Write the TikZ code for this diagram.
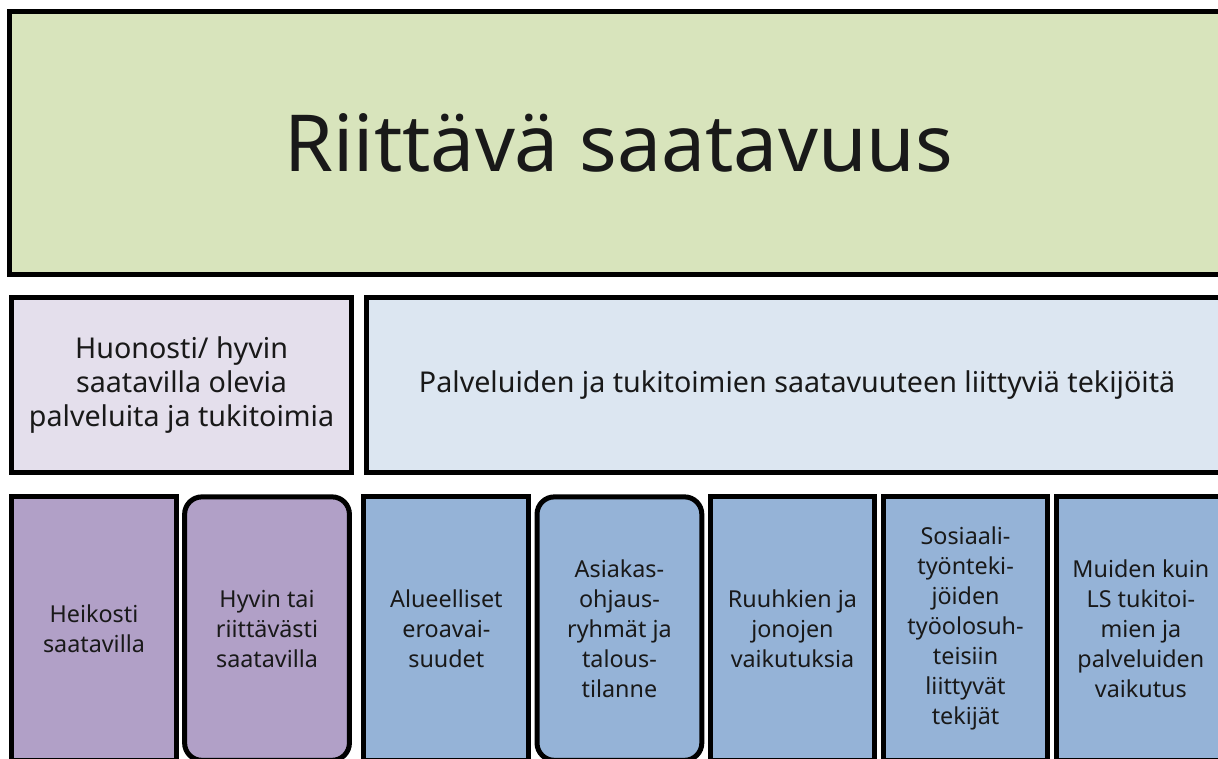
\documentclass[tikz,border=0pt]{standalone}
\usepackage{fontspec}
\setmainfont{Noto Sans}
\usepackage{xcolor}
\usetikzlibrary{positioning}

\definecolor{headgreen}{HTML}{D8E4BC}
\definecolor{lilac}{HTML}{E4DFEC}
\definecolor{paleblue}{HTML}{DCE6F1}
\definecolor{purple}{HTML}{B1A0C7}
\definecolor{midblue}{HTML}{95B3D7}

\begin{document}
\begin{tikzpicture}[
    x=0.75pt, y=-0.75pt,
    box/.style={draw=black, line width=3.75pt, outer sep=0pt, inner sep=3pt, align=center, text=black!90},
    head/.style={box, fill=headgreen, minimum width=914pt, minimum height=197pt, font=\fontsize{59}{70}\selectfont},
    avail/.style={box, fill=lilac, minimum width=255pt, minimum height=131pt, font=\fontsize{21.5}{25.5}\selectfont},
    factor/.style={box, fill=paleblue, minimum width=646.5pt, minimum height=131pt, font=\fontsize{21.5}{25.5}\selectfont},
    cell/.style={box, minimum width=123.6pt, minimum height=197.6pt, font=\fontsize{17.5}{22.5}\selectfont},
    pcell/.style={cell, fill=purple},
    bcell/.style={cell, fill=midblue},
    soft/.style={rounded corners=13pt},
]
\useasboundingbox (0,0) rectangle (1218,758);
\clip (0,0) rectangle (1218,758);

% Top: main heading
\node[head] (title) at (618.75,143) {Riittävä saatavuus};

% Row 2
\node[avail, below=16pt of title.south west, anchor=north west, xshift=1.6pt, yshift=-1.5pt] (avail) {Huonosti/ hyvin\\saatavilla olevia\\palveluita ja tukitoimia};
\node[factor, right=10.9pt of avail] (factors) {Palveluiden ja tukitoimien saatavuuteen liittyviä tekijöitä};

% Row 3: availability
\node[pcell, below=18.4pt of avail.south west, anchor=north west] (weak) {Heikosti\\saatavilla};
\node[pcell, soft, right=6.2pt of weak] (good) {Hyvin tai\\riittävästi\\saatavilla};

% Row 3: factors
\node[bcell, right=10.9pt of good] (region) {Alueelliset\\eroavai-\\suudet};
\node[bcell, soft, right=6.2pt of region] (client) {Asiakas-\\ohjaus-\\ryhmät ja\\talous-\\tilanne};
\node[bcell, right=6.2pt of client] (queue) {Ruuhkien ja\\jonojen\\vaikutuksia};
\node[bcell, right=6.2pt of queue] (staff) {Sosiaali-\\työnteki-\\jöiden\\työolosuh-\\teisiin\\liittyvät\\tekijät};
\node[bcell, right=6.2pt of staff, minimum width=127pt] (other) {Muiden kuin\\LS tukitoi-\\mien ja\\palveluiden\\vaikutus};

\end{tikzpicture}
\end{document}
